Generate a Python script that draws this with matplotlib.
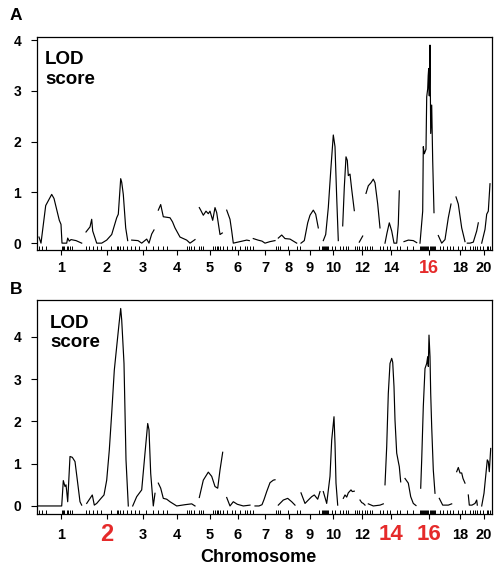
import matplotlib

matplotlib.use('Agg')

import matplotlib.pyplot as plt
from matplotlib.ticker import FixedLocator

plt.rcParams['font.family'] = ['Liberation Sans', 'DejaVu Sans']
plt.rcParams['font.weight'] = 'bold'

# chromosome label positions (cumulative map position)
chrom_pos = [61, 107, 143, 177, 210, 238, 265, 289, 310, 333, 362, 391, 429, 460, 484]
chrom_labels = ['1', '2', '3', '4', '5', '6', '7', '8', '9', '10', '12', '14', '16', '18', '20']

# marker positions along the genome
markers = [39.3, 41.7, 45.7, 61, 62, 63, 64, 66.7, 68.3, 70, 71.7, 86, 89.3, 92.7, 96.7, 101,
           111, 116.7, 118.3, 120, 123.3, 126.7, 131, 135, 139.3, 146, 153.3, 158.3, 162.7,
           166.7, 186.7, 188.7, 190.7, 194, 198.7, 201, 203.3, 213.3, 215, 216.7, 218.3, 220,
           223.3, 226.7, 232.3, 235, 240, 245, 247.3, 250, 253.3, 276, 278.3, 280, 288.3, 296.7,
           300, 319, 321.7, 323, 324, 325, 326, 327, 328, 331.7, 335, 340, 343.3, 346, 348.3,
           355, 356.7, 359.3, 361.7, 365, 366.7, 370, 371.7, 380, 383.3, 386.7, 390, 396.7, 400,
           406.7, 413.3, 420, 421, 422, 423, 424, 425, 426, 427, 428, 429, 430, 431, 432, 433,
           434, 435, 440, 443.3, 446.7, 450, 453.3, 458.3, 461.7, 465, 470, 473.3, 475, 477.3,
           480, 483.3, 486.7, 488.3, 490]

# panel A: one segment per chromosome
a_pos = [
    [39, 41, 45.7, 51.7, 54, 59.3, 61, 62, 66.7, 67.7, 69.3, 71, 76, 81.7],
    [86, 90, 91.7, 92.7, 96.7, 101.7, 106.7, 111.7, 116.7, 118.3, 120.7, 121.7, 123.3, 125.7, 127.7],
    [131.7, 138, 141.7, 146.7, 149, 151.7, 154],
    [158.3, 160.7, 163.3, 170, 172.5, 175, 180, 186.7, 190, 195],
    [199.3, 200.7, 203.3, 206, 208.3, 210, 212.7, 215, 216.7, 220, 222.3],
    [226.7, 230, 231.7, 233.3, 240, 246.7, 249.3],
    [253.3, 258, 262, 265, 270, 275],
    [278.3, 281.7, 285, 290, 296.7],
    [301, 304.3, 307.7, 310, 313.3, 315.7, 318.3],
    [323.3, 325.7, 328.3, 331, 333.3, 335, 336.7, 338.3],
    [342.7, 344.3, 346, 347.3, 348.3, 350, 351.7, 354.3],
    [359.3, 361, 362.7],
    [366, 368.3, 371, 373.3, 375, 377.7, 380],
    [385, 387, 389.3, 391.7, 394, 396.7, 398.3, 399.3],
    [404, 408.3, 413.3, 416.7],
    [420, 422.7, 423.3, 424.3, 426, 426.7, 427.7, 428.2, 428.7, 429.3, 430, 430.7, 431.7, 432.7, 434],
    [438.3, 441.7, 445, 448.3, 451],
    [456, 458.3, 461.7, 465],
    [467.3, 470, 473.3, 476.7, 478.3],
    [481.7, 485, 486.7, 488.3, 490],
]
a_lod = [
    [0.12, 0.0, 0.74, 0.96, 0.88, 0.45, 0.37, 0.0, 0.0, 0.1, 0.04, 0.07, 0.05, 0.0],
    [0.22, 0.32, 0.47, 0.24, 0.0, 0.0, 0.06, 0.17, 0.5, 0.57, 1.27, 1.2, 0.96, 0.3, 0.05],
    [0.06, 0.05, 0.0, 0.08, 0.0, 0.18, 0.26],
    [0.65, 0.76, 0.52, 0.5, 0.42, 0.3, 0.12, 0.06, 0.0, 0.07],
    [0.7, 0.65, 0.55, 0.63, 0.58, 0.63, 0.45, 0.7, 0.6, 0.17, 0.2],
    [0.65, 0.47, 0.24, 0.0, 0.03, 0.06, 0.05],
    [0.09, 0.06, 0.04, 0.0, 0.03, 0.05],
    [0.1, 0.16, 0.09, 0.08, 0.0],
    [0.0, 0.05, 0.4, 0.55, 0.65, 0.57, 0.3],
    [0.05, 0.17, 0.7, 1.5, 2.13, 1.9, 0.9, 0.05],
    [0.34, 1.1, 1.7, 1.63, 1.33, 1.36, 1.06, 0.64],
    [0.02, 0.08, 0.14],
    [0.98, 1.13, 1.19, 1.26, 1.19, 0.77, 0.3],
    [0.0, 0.2, 0.4, 0.24, 0.0, 0.0, 0.37, 1.03],
    [0.03, 0.06, 0.05, 0.01],
    [0.0, 0.63, 1.9, 1.76, 1.85, 2.88, 3.04, 3.3, 3.44, 2.9, 3.9, 2.16, 2.72, 1.62, 0.6],
    [0.15, 0.0, 0.07, 0.5, 0.77],
    [0.91, 0.77, 0.3, 0.03],
    [0.0, 0.0, 0.02, 0.24, 0.4],
    [0.0, 0.27, 0.57, 0.63, 1.17],
]

# panel B
b_pos = [
    [38.3, 61.7, 63.3, 65, 66, 66.7, 67.7, 70, 72.3, 75, 77.7, 80, 81.7],
    [86.7, 92.3, 94.3, 96.7, 101, 104, 106.7, 109.3, 111.7, 114.3, 116.7, 119, 120.7, 121.7, 124, 126, 128.3],
    [132.7, 136.7, 141.7, 145, 147.7, 149, 150.7, 153.3, 155],
    [158.3, 160.7, 163.3, 166.7, 170, 176.7, 185, 191.7, 195],
    [199.3, 203.3, 208.3, 211.7, 215, 217.7, 220, 222.7],
    [226.7, 230, 233.3, 237.3, 243.3, 250],
    [255, 259, 262, 264, 266.7, 270, 273.3, 275],
    [278.3, 283.3, 287.7, 291.7, 295],
    [301, 305, 308.3, 311.7, 314.3, 317.7, 320],
    [323.3, 326.7, 330, 331.7, 334, 335, 336, 337.7],
    [343.3, 345, 346.7, 348.3, 351, 352.3, 354.3],
    [360, 361.7, 363.3, 365],
    [368.3, 373.3, 380, 383.3],
    [385, 386.7, 388.3, 390, 391.7, 392.7, 394, 395, 396.7, 398.3, 399.3, 400.7],
    [405, 408.3, 410.7, 413.3, 416],
    [420.7, 421.7, 423.3, 425, 426.7, 427.7, 428.3, 429, 430, 430.7, 431.7, 433.3, 435],
    [439.3, 442.7, 448.3, 451.7],
    [456.7, 458.3, 460, 461.7, 463, 465],
    [468.3, 469.3, 472, 475, 476.7, 477.3],
    [481.7, 484, 486, 487.3, 488.3, 489.3, 490.7],
]
b_lod = [
    [0.0, 0.0, 0.6, 0.46, 0.5, 0.35, 0.1, 1.17, 1.15, 1.05, 0.54, 0.1, 0.02],
    [0.06, 0.26, 0.02, 0.06, 0.18, 0.26, 0.61, 1.32, 2.19, 3.21, 3.77, 4.3, 4.67, 4.4, 3.37, 1.09, 0.0],
    [0.0, 0.22, 0.38, 1.25, 1.95, 1.8, 0.77, 0.0, 0.3],
    [0.54, 0.42, 0.18, 0.16, 0.1, 0.0, 0.03, 0.05, 0.0],
    [0.2, 0.61, 0.8, 0.7, 0.46, 0.42, 0.85, 1.27],
    [0.2, 0.0, 0.1, 0.04, 0.0, 0.02],
    [0.0, 0.0, 0.03, 0.15, 0.34, 0.55, 0.61, 0.62],
    [0.02, 0.14, 0.18, 0.1, 0.02],
    [0.31, 0.06, 0.14, 0.22, 0.26, 0.16, 0.34],
    [0.34, 0.06, 0.7, 1.56, 2.11, 1.48, 0.54, 0.02],
    [0.18, 0.26, 0.21, 0.31, 0.38, 0.34, 0.35],
    [0.14, 0.08, 0.06, 0.02],
    [0.05, 0.0, 0.02, 0.05],
    [0.5, 1.4, 2.66, 3.37, 3.49, 3.4, 2.82, 2.03, 1.25, 1.05, 0.93, 0.57],
    [0.65, 0.54, 0.22, 0.06, 0.01],
    [0.42, 1.09, 2.35, 3.25, 3.37, 3.53, 3.3, 4.04, 3.53, 2.66, 1.87, 0.85, 0.3],
    [0.18, 0.02, 0.02, 0.05],
    [0.81, 0.91, 0.78, 0.78, 0.65, 0.54],
    [0.26, 0.02, 0.02, 0.06, 0.14, 0.02],
    [0.0, 0.3, 0.78, 1.09, 1.05, 0.81, 1.36],
]

# highlighted chromosome labels (label -> font size)
a_red = {'16': 13}
b_red = {'2': 17, '14': 16, '16': 16}

fig = plt.figure(figsize=(4.96, 5.70), dpi=100)
axA = fig.add_axes([37 / 496, 1 - 250 / 570, 455 / 496, 213 / 570])
axB = fig.add_axes([37 / 496, 1 - 514 / 570, 455 / 496, 214 / 570])


def draw_panel(ax, pos, lod, ylim, red, pad):
    for xs, ys in zip(pos, lod):
        ax.plot(xs, ys, color='black', lw=0.85)
    ax.set_xlim(37, 492)
    ax.set_ylim(*ylim)
    ax.set_yticks([0, 1, 2, 3, 4])
    ax.xaxis.set_major_locator(FixedLocator(chrom_pos))
    ax.xaxis.set_minor_locator(FixedLocator(markers))
    ax.set_xticklabels(chrom_labels)
    ax.tick_params(axis='y', direction='out', length=4.3, width=0.8, pad=7, labelsize=10)
    ax.tick_params(axis='x', which='major', direction='out', length=3.6, width=0.8,
                   pad=pad, labelsize=10.5)
    ax.tick_params(axis='x', which='minor', direction='in', length=2.9, width=0.7)
    for lab in ax.get_xticklabels():
        lab.set_va('center')
        if lab.get_text() in red:
            lab.set_color('#e52a2a')
            lab.set_fontsize(red[lab.get_text()])
    for lab in ax.get_yticklabels():
        lab.set_fontweight('bold')
    for sp in ax.spines.values():
        sp.set_linewidth(0.9)


draw_panel(axA, a_pos, a_lod, (-0.135, 4.06), a_red, 9.7)
draw_panel(axB, b_pos, b_lod, (-0.19, 4.87), b_red, 11.5)

# LOD score captions
axA.text(0.0176, 0.932, 'LOD\nscore', transform=axA.transAxes, va='top', ha='left',
         fontsize=13.5, fontweight='bold')
axB.text(0.0286, 0.932, 'LOD\nscore', transform=axB.transAxes, va='top', ha='left',
         fontsize=13.5, fontweight='bold')

# panel letters and axis title
fig.text(10 / 496, 1 - 15.5 / 570, 'A', fontsize=12.5, fontweight='bold', va='center')
fig.text(10 / 496, 1 - 289 / 570, 'B', fontsize=12.5, fontweight='bold', va='center')
fig.text(258 / 496, 1 - 558 / 570, 'Chromosome', fontsize=13, fontweight='bold',
         ha='center', va='center')

fig.savefig('out.png', dpi=100)
